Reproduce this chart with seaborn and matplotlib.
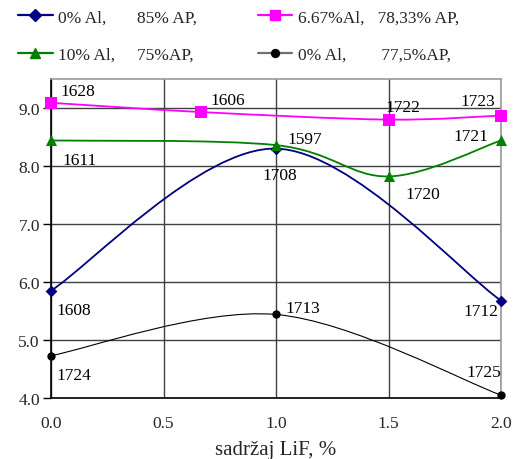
import numpy as np
import pandas as pd
import seaborn as sns
import matplotlib
matplotlib.use("Agg")
import matplotlib.pyplot as plt
from matplotlib.path import Path
from matplotlib.patches import PathPatch
from matplotlib.lines import Line2D

sns.set_theme(style="white")
plt.rcParams['font.family'] = ['Liberation Serif', 'DejaVu Serif']

# ---- data ----
s1_label = "0% Al,       85% AP,"
s1_x = [0.0, 1.0, 2.0]
s1_y = [5.85, 8.30, 5.68]
s1_ids = ["1608", "1708", "1712"]

s2_label = "6.67%Al,   78,33% AP,"
s2_x = [0.0, 0.667, 1.5, 2.0]
s2_y = [9.09, 8.93, 8.80, 8.87]
s2_ids = ["1628", "1606", "1722", "1723"]

s3_label = "10% Al,     75%AP,"
s3_x = [0.0, 1.0, 1.5, 2.0]
s3_y = [8.44, 8.36, 7.82, 8.44]
s3_ids = ["1611", "1597", "1720", "1721"]

s4_label = "0% Al,        77,5%AP,"
s4_x = [0.0, 1.0, 2.0]
s4_y = [4.73, 5.44, 4.05]
s4_ids = ["1724", "1713", "1725"]

x_ticks = [0.0, 0.5, 1.0, 1.5, 2.0]
y_ticks = [4.0, 5.0, 6.0, 7.0, 8.0, 9.0]
x_label = "sadržaj LiF, %"

series = [
    (s1_label, s1_x, s1_y, s1_ids, "#000080", "D", 6, 1.3, "#000080"),
    (s2_label, s2_x, s2_y, s2_ids, "#FF00FF", "s", 8, 1.3, "#FF00FF"),
    (s3_label, s3_x, s3_y, s3_ids, "#008000", "^", 8, 1.3, "#008000"),
    (s4_label, s4_x, s4_y, s4_ids, "#000000", "o", 6, 0.8, "#707070"),
]

# label offsets in points (dx, dy, ha, va)
offsets = {
    "1608": (4, -8, "left", "top"),
    "1708": (-10, -13, "left", "top"),
    "1712": (-2, -2, "right", "top"),
    "1628": (7, 3, "left", "bottom"),
    "1606": (7, 3, "left", "bottom"),
    "1722": (-2, 3, "left", "bottom"),
    "1723": (-4, 5, "right", "bottom"),
    "1611": (8, -8, "left", "top"),
    "1597": (8, -1, "left", "bottom"),
    "1720": (12, -7, "left", "top"),
    "1721": (-9, 3, "right", "center"),
    "1724": (4, -8, "left", "top"),
    "1713": (7, -1, "left", "bottom"),
    "1725": (0, 11, "right", "bottom"),
}

W, H = 517, 460
fig = plt.figure(figsize=(W / 100, H / 100), dpi=100)
ax = fig.add_axes([51 / W, 1 - 399 / H, (501 - 51) / W, (399 - 80) / H])


def smooth_path(xs, ys):
    pts = np.column_stack([xs, ys]).astype(float)
    n = len(pts)
    verts = [pts[0]]
    codes = [Path.MOVETO]
    for i in range(n - 1):
        p0 = pts[i - 1] if i > 0 else pts[i]
        p1 = pts[i]
        p2 = pts[i + 1]
        p3 = pts[i + 2] if i + 2 < n else pts[i + 1]
        c1 = p1 + (p2 - p0) / 6.0
        c2 = p2 - (p3 - p1) / 6.0
        verts += [c1, c2, p2]
        codes += [Path.CURVE4] * 3
    return Path(verts, codes)


handles = {}
for label, xs, ys, ids, color, marker, ms, lw, lcol in series:
    ax.add_patch(PathPatch(smooth_path(xs, ys), facecolor="none",
                           edgecolor=color, lw=lw, zorder=3))
    df = pd.DataFrame({"x": xs, "y": ys})
    sns.scatterplot(data=df, x="x", y="y", marker=marker, s=ms ** 2,
                    color=color, edgecolor=color, linewidth=0, ax=ax,
                    zorder=4, clip_on=False)
    for xv, yv, t in zip(xs, ys, ids):
        dx, dy, ha, va = offsets[t]
        ax.annotate(t, (xv, yv), xytext=(dx, dy), textcoords="offset points",
                    ha=ha, va=va, fontsize=12.5, color="black", zorder=5)
    handles[label] = Line2D([], [], color=lcol, lw=1.6, marker=marker,
                            markersize=ms * 0.95, markerfacecolor=color,
                            markeredgecolor=color, label=label)

ax.set_xlim(0, 2.0)
ax.set_ylim(4.0, 9.5)
ax.set_xticks(x_ticks)
ax.set_xticklabels([f"{v:.1f}" for v in x_ticks])
ax.set_yticks(y_ticks)
ax.set_yticklabels([f"{v:.1f}" for v in y_ticks])
ax.grid(True, color="#404040", lw=1.0, zorder=0)
ax.set_axisbelow(True)
for side in ["top", "right"]:
    ax.spines[side].set_color("#999999")
    ax.spines[side].set_linewidth(1.2)
for side in ["left", "bottom"]:
    ax.spines[side].set_color("black")
    ax.spines[side].set_linewidth(1.2)
ax.tick_params(axis="y", which="major", left=True, length=6, width=1,
               color="black", labelsize=12.5, pad=2)
ax.tick_params(axis="x", which="major", bottom=False, labelsize=12.5, pad=6)
ax.set_xlabel(x_label, fontsize=15, labelpad=7)
ax.set_ylabel("")

order = [s1_label, s3_label, s2_label, s4_label]
fig.legend(handles=[handles[k] for k in order], loc="upper left",
           bbox_to_anchor=(18 / W, 1 - 10 / H), borderaxespad=0, borderpad=0,
           ncol=2, frameon=False, fontsize=12.5, handlelength=2.0,
           handletextpad=0.3, columnspacing=3.5, labelspacing=1.25)

fig.savefig("out.png", dpi=100)
